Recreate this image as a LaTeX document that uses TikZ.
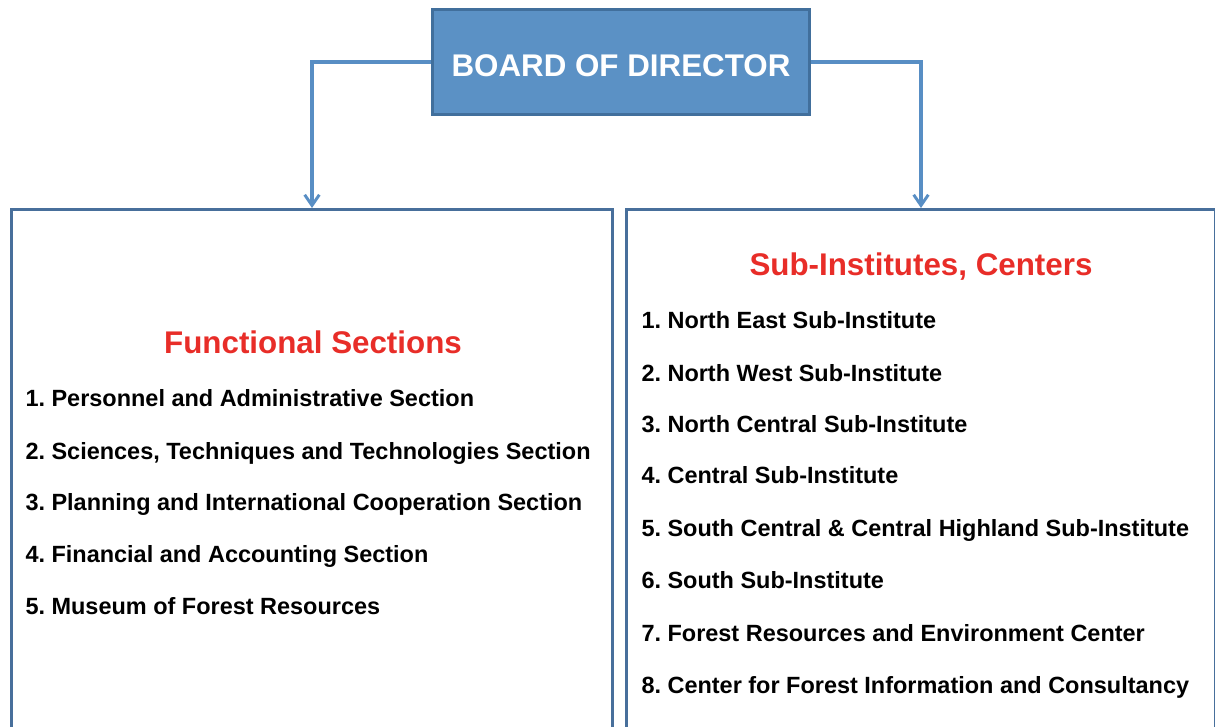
\documentclass[tikz,border=0pt]{standalone}
\usepackage{fontspec}
\setmainfont{Liberation Sans}
\frenchspacing
\usetikzlibrary{arrows.meta}

\definecolor{boardfill}{RGB}{91,145,197}
\definecolor{boardline}{RGB}{65,111,156}
\definecolor{linkblue}{RGB}{88,142,196}
\definecolor{frameblue}{RGB}{72,111,155}
\definecolor{titlered}{RGB}{232,45,40}

\tikzset{every picture/.style={line width=0.75pt}}
\tikzset{
  boardbox/.style={draw=boardline, fill=boardfill, line width=2.25pt, minimum width=282.75pt, minimum height=78.75pt, inner sep=0pt, text height=21pt, text depth=0pt, text=white, font=\bfseries\fontsize{23.5}{28}\selectfont},
  framebox/.style={draw=frameblue, line width=2.25pt, minimum height=450pt, inner sep=0pt},
  linkarrow/.style={draw=linkblue, line width=2.5pt, -{Straight Barb[length=8pt,width=11pt,line width=2.2pt]}},
  headtext/.style={anchor=base, inner sep=0pt, text=titlered, font=\bfseries\fontsize{23.5}{28}\selectfont},
  itemtext/.style={anchor=base west, inner sep=0pt, font=\bfseries\fontsize{17.6}{21}\selectfont}
}

\begin{document}
\begin{tikzpicture}[x=0.75pt,y=0.75pt,yscale=-1,xscale=1]
	\useasboundingbox (0,0) rectangle (1215,726);
	\clip (0,0) rectangle (1215,726);
	
	%Shape: Rectangle [board]
	\node [boardbox] (board) at (621,62) {BOARD OF DIRECTOR};
	%Shape: Rectangle [left frame]
	\node [framebox, minimum width=450.75pt] (funcbox) at (312,509.5) {};
	%Shape: Rectangle [right frame]
	\node [framebox, minimum width=441.75pt] (subbox) at (921,509.5) {};
	
	%Straight Lines
	\draw [linkarrow] (board.west) -| (funcbox.north);
	%Straight Lines
	\draw [linkarrow] (board.east) -| (subbox.north);
	
	% Text Node
	\node [headtext] (funchead) at (313,353) {Functional Sections};
	% Text Node
	\node [itemtext] (func1) at (25,406.4) {1. Personnel and Administrative Section};
	% Text Node
	\node [itemtext] (func2) at (25,459.4) {2. Sciences, Techniques and Technologies Section};
	% Text Node
	\node [itemtext] (func3) at (25,510.4) {3. Planning and International Cooperation Section};
	% Text Node
	\node [itemtext] (func4) at (25,562.4) {4. Financial and Accounting Section};
	% Text Node
	\node [itemtext] (func5) at (25,614.4) {5. Museum of Forest Resources};
	
	% Text Node
	\node [headtext] (subhead) at (921,275) {Sub-Institutes, Centers};
	% Text Node
	\node [itemtext] (sub1) at (641,328.4) {1. North East Sub-Institute};
	% Text Node
	\node [itemtext] (sub2) at (641,381.4) {2. North West Sub-Institute};
	% Text Node
	\node [itemtext] (sub3) at (641,432.4) {3. North Central Sub-Institute};
	% Text Node
	\node [itemtext] (sub4) at (641,483.4) {4. Central Sub-Institute};
	% Text Node
	\node [itemtext] (sub5) at (641,536.4) {5. South Central \& Central Highland Sub-Institute};
	% Text Node
	\node [itemtext] (sub6) at (641,588.4) {6. South Sub-Institute};
	% Text Node
	\node [itemtext] (sub7) at (641,641.4) {7. Forest Resources and Environment Center};
	% Text Node
	\node [itemtext] (sub8) at (641,693.4) {8. Center for Forest Information and Consultancy};
	
\end{tikzpicture}
\end{document}
